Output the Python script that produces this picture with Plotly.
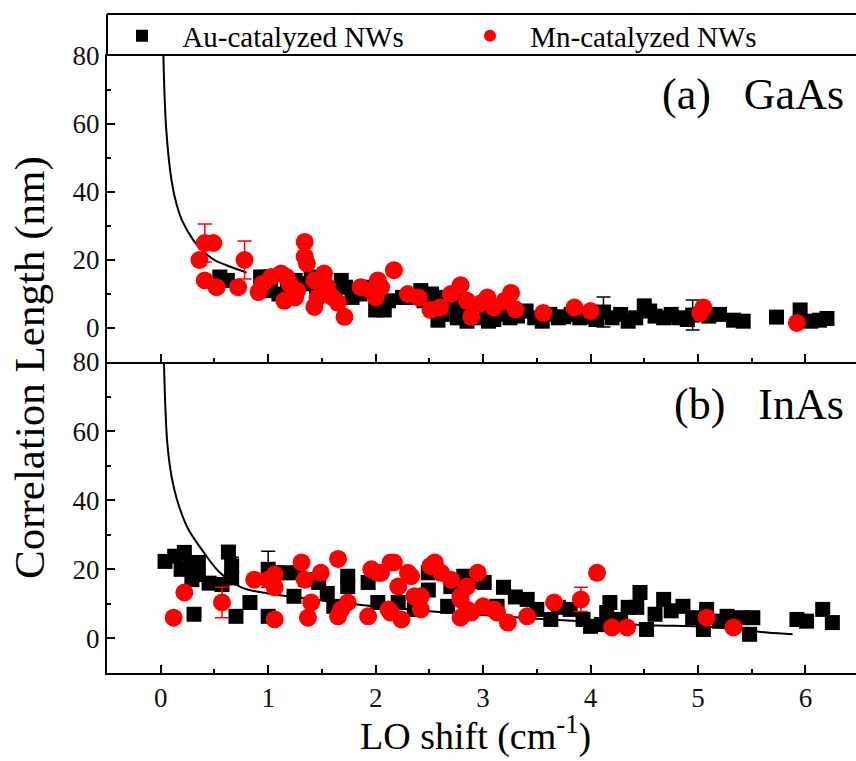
import plotly.graph_objects as go

# ---------------- data ----------------
# (a) GaAs - Au-catalyzed
ga_au_x = [0.55,0.62,0.93,1.0,1.02,1.1,1.18,1.25,1.33,1.4,1.45,1.52,1.6,1.68,1.72,1.78,1.85,1.9,2.0,2.08,
           2.12,2.25,2.3,2.42,2.45,2.52,2.58,2.58,2.62,2.68,2.73,2.76,2.8,2.85,2.9,2.95,3.0,3.05,3.1,3.15,
           3.19,3.25,3.32,3.4,3.48,3.55,3.62,3.7,3.75,3.82,3.9,3.97,4.05,4.12,4.2,4.28,4.35,4.42,4.5,4.55,
           4.6,4.68,4.75,4.82,4.9,4.95,5.1,5.2,5.33,5.42,5.73,5.95,6.05,6.13,6.2]
ga_au_y = [15,14,15,15,11,10,12,14,13,15,12,13,11,14,12,9,10,12,5.3,5.3,
           8,9,9,11,8,10,9,2.3,4,7,8.2,3,6,2,5,3,6,2,2.5,4,
           5.3,3,3.5,5,3,2,4,3,3.3,4,3,3.3,2.5,4.7,3,4,2,3,6.5,5,
           3.5,3,4,3,2.5,3.8,3.5,4,2.3,2,3.2,5.3,2,2.3,2.8]
ga_au_err = [0]*len(ga_au_x)
ga_au_err[ga_au_x.index(4.12)] = 4.4
ga_au_err[ga_au_x.index(4.95)] = 4.4

# (a) GaAs - Mn-catalyzed
ga_mn_x = [0.36,0.41,0.49,0.41,0.52,0.72,0.78,0.91,0.95,1.03,1.12,1.17,1.2,1.27,1.15,1.25,1.34,1.34,1.36,1.43,
           1.43,1.46,1.52,1.55,1.6,1.65,1.71,1.86,1.96,2.0,2.02,2.05,2.17,2.3,2.4,2.51,2.6,2.7,2.79,2.85,
           2.89,2.98,3.04,3.1,3.2,3.26,3.3,3.56,3.85,4.0,5.02,5.05,5.92]
ga_mn_y = [20,25,25,14,12,12,20,10.6,13,15,16,15,13,11,8,9,25.3,21,19,14,
           6.2,9,16,12,9,7.4,3.3,12,11,9,14,12,17,10,9,5.3,6,10,12.6,8,
           3.3,7.3,9,6,8,10.3,5.5,4.4,6,5,4.4,6,1.5]
ga_mn_err = [0]*len(ga_mn_x)
ga_mn_err[1] = 5.6
ga_mn_err[6] = 5.6

# (b) InAs - Au-catalyzed
in_au_x = [0.04,0.13,0.22,0.19,0.27,0.35,0.35,0.29,0.45,0.63,0.66,0.66,0.57,0.31,0.83,0.70,1.0,1.0,1.08,1.15,
           1.28,1.24,1.35,1.47,1.55,1.61,1.74,1.74,1.93,2.02,2.21,2.36,2.49,2.49,2.67,2.7,2.82,2.95,3.01,3.13,
           3.19,3.3,3.41,3.5,3.63,3.7,3.81,3.93,4.0,4.1,4.15,4.18,4.28,4.35,4.43,4.46,4.52,4.6,4.68,4.75,
           4.86,4.95,5.05,5.08,5.2,5.27,5.4,5.51,5.48,5.92,6.01,6.16,6.25]
in_au_y = [22.3,23.8,24.9,20,21,22,18.5,17,16,25,21,17.5,15.6,7,10.4,6.4,6.4,20,19,19,
           19,12.2,17,16.2,13,9.3,18,15,16.2,10.4,10.4,8.4,19,14,9.3,15,18,16.5,16.2,9.3,
           14.8,12,11.3,8.4,5.5,9,8.4,5.5,3.5,4,7.5,10.4,5.5,9,9,13.3,2.6,7,11.3,8,
           9.3,6,2.6,8.4,5,6.4,6,6,1.2,5.5,5,8.4,4.6]
in_au_err = [0]*len(in_au_x)
in_au_err[17] = 5.2
in_au_err[10] = 2.5

# (b) InAs - Mn-catalyzed
in_mn_x = [0.12,0.22,0.57,0.87,1.0,1.06,1.06,1.06,1.31,1.34,1.4,1.37,1.49,1.65,1.65,1.68,1.74,1.93,1.96,2.02,
           2.05,2.12,2.14,2.14,2.17,2.21,2.24,2.3,2.33,2.36,2.42,2.42,2.51,2.55,2.61,2.7,2.79,2.79,2.79,2.85,
           2.85,2.89,2.95,3.0,3.1,3.13,3.23,3.41,3.66,3.91,4.06,4.2,4.34,5.08,5.33]
in_mn_y = [6,13.3,10.4,17,17,18.5,14.8,5.5,22,17,10.4,6,19,23,6.4,8.4,10.4,6.4,20,19,
           19,8.4,22,7.5,22,15,5.5,19,18,12.2,8.4,12.2,21,22,19,17,12.2,11.3,6,15,
           8.4,7.5,19,9.3,8.4,7.5,4.6,6.4,10.4,11.3,19,3.2,3.2,6,3.2]
in_mn_err = [0]*len(in_mn_x)
in_mn_err[2] = 4.4
in_mn_err[49] = 3.5

# fitted curves
ga_fit_x = [0.025,0.05,0.1,0.15,0.2,0.3,0.38,0.5,0.65,0.8]
ga_fit_y = [80,59,43.5,36,31.5,26,23,20,18,16.3]
in_fit_x = [0.03,0.06,0.1,0.15,0.25,0.38,0.54,0.75,1.0,1.19,1.5,1.89,2.5,3.0,3.5,4.0,4.5,5.18,5.64,5.88]
in_fit_y = [80,57,47,40.3,32,25.8,19.4,14.8,13,12.2,11,9.6,7.9,6.8,5.7,4.8,3.9,3.2,1.7,1.2]

x_ticks = [0,1,2,3,4,5,6]
y_ticks = [0,20,40,60,80]

# ---------------- figure ----------------
FONT = "Liberation Serif"
BLACK = "#000000"
RED = "#ff0000"
PAD = "\u2002\u2009"

fig = go.Figure()

def add_panel(ax, ay, au_x, au_y, au_err, mn_x, mn_y, mn_err, fx, fy, show):
    fig.add_trace(go.Scatter(x=fx, y=fy, mode="lines", line=dict(color=BLACK, width=2, shape="spline"),
                             xaxis=ax, yaxis=ay, showlegend=False, hoverinfo="skip"))
    fig.add_trace(go.Scatter(x=au_x, y=au_y, mode="markers", name=PAD + "Au-catalyzed NWs",
                             marker=dict(symbol="square", size=15, color=BLACK),
                             error_y=dict(type="data", array=au_err, color=BLACK, thickness=1.5, width=7),
                             xaxis=ax, yaxis=ay, showlegend=show, legend="legend"))
    fig.add_trace(go.Scatter(x=mn_x, y=mn_y, mode="markers", name=PAD + "Mn-catalyzed NWs",
                             marker=dict(symbol="circle", size=18, color=RED),
                             error_y=dict(type="data", array=mn_err, color=RED, thickness=1.5, width=7),
                             xaxis=ax, yaxis=ay, showlegend=show, legend="legend2"))

add_panel("x2", "y2", ga_au_x, ga_au_y, ga_au_err, ga_mn_x, ga_mn_y, ga_mn_err, ga_fit_x, ga_fit_y, True)
add_panel("x", "y", in_au_x, in_au_y, in_au_err, in_mn_x, in_mn_y, in_mn_err, in_fit_x, in_fit_y, False)

W, H = 856, 761
L, R, T, B = 107, 0, 14, 88
ph = H - T - B
pw = W - L - R
def py(p):
    return (H - B - p) / ph
def px(p):
    return (p - L) / pw

split = py(362)
top = py(56)

tickfont = dict(family=FONT, size=27, color="#111111")
xcommon = dict(range=[-0.5, 6.47], tickvals=x_ticks, ticks="inside", ticklen=8, tickwidth=1.5,
               tickcolor=BLACK, showline=True, linecolor=BLACK, linewidth=2, showgrid=False,
               zeroline=False, tickfont=tickfont,
               minor=dict(tickvals=[-0.5+0.5*i for i in range(15)], ticks="inside", ticklen=4,
                          tickwidth=1.5, tickcolor=BLACK))
ycommon = dict(range=[-10, 80], tickvals=y_ticks, ticks="inside", ticklen=8, tickwidth=1.5,
               tickcolor=BLACK, showline=True, linecolor=BLACK, linewidth=2, showgrid=False,
               zeroline=False, tickfont=tickfont,
               minor=dict(tickvals=[-10,10,30,50,70], ticks="inside", ticklen=4,
                          tickwidth=1.5, tickcolor=BLACK))

fig.update_layout(
    width=W, height=H,
    margin=dict(l=L, r=R, t=T, b=B),
    paper_bgcolor="white", plot_bgcolor="white",
    font=dict(family=FONT, color=BLACK),
    xaxis=dict(anchor="y", domain=[0, 1], **xcommon),
    yaxis=dict(anchor="x", domain=[0, split], **ycommon),
    xaxis2=dict(anchor="y2", domain=[0, 1], matches="x", showticklabels=False, mirror=True, **xcommon),
    yaxis2=dict(anchor="x2", domain=[split, top], **ycommon),
    legend=dict(x=px(122), y=py(36), xanchor="left", yanchor="middle", orientation="h",
                font=dict(family=FONT, size=29, color=BLACK), bgcolor="rgba(0,0,0,0)",
                itemsizing="constant"),
    legend2=dict(x=px(470), y=py(36), xanchor="left", yanchor="middle", orientation="h",
                 font=dict(family=FONT, size=29, color=BLACK), bgcolor="rgba(0,0,0,0)",
                 itemsizing="constant"),
    shapes=[
        dict(type="line", xref="paper", yref="paper", x0=0, x1=1.05, y0=1, y1=1,
             line=dict(color=BLACK, width=2)),
        dict(type="line", xref="paper", yref="paper", x0=0, x1=0, y0=top, y1=1,
             line=dict(color=BLACK, width=2)),
    ],
    annotations=[
        dict(text="(a)   GaAs", x=px(846), y=py(95), xref="paper", yref="paper", xanchor="right",
             yanchor="middle", showarrow=False, font=dict(family=FONT, size=44, color=BLACK)),
        dict(text="(b)   InAs", x=px(846), y=py(404), xref="paper", yref="paper", xanchor="right",
             yanchor="middle", showarrow=False, font=dict(family=FONT, size=44, color=BLACK)),
        dict(text="Correlation Length (nm)", x=px(30), y=py(368), xref="paper",
             yref="paper", xanchor="center", yanchor="middle", textangle=-90, showarrow=False,
             font=dict(family=FONT, size=43, color=BLACK)),
        dict(text="LO shift (cm<sup>-1</sup>)", x=px(475), y=py(734), xref="paper",
             yref="paper", xanchor="center", yanchor="middle", showarrow=False,
             font=dict(family=FONT, size=38, color=BLACK)),
    ],
)

fig.write_html("out.html")
